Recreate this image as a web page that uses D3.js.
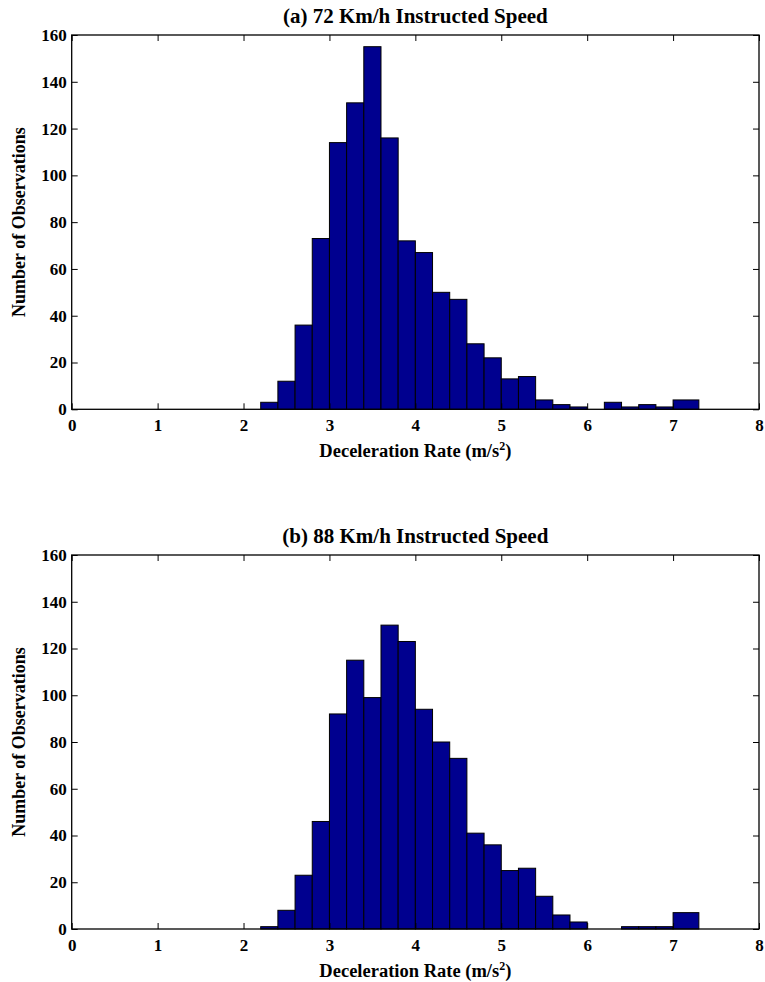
<!DOCTYPE html>
<html>
<head>
<meta charset="utf-8">
<script src="https://cdn.jsdelivr.net/npm/d3@7"></script>
<style>
  html, body { margin: 0; padding: 0; background: #fff; }
  svg text { font-family: "Liberation Serif", "Times New Roman", Times, "DejaVu Serif", serif !important; font-weight: bold; fill: #000; }
</style>
</head>
<body>
<svg id="chart" width="765" height="982"></svg>
<script>
// Bin edges of the histograms (m/s^2)
const binEdges = [2.2, 2.4, 2.6, 2.8, 3.0, 3.2, 3.4, 3.6, 3.8, 4.0, 4.2, 4.4, 4.6, 4.8,
                  5.0, 5.2, 5.4, 5.6, 5.8, 6.0, 6.2, 6.4, 6.6, 6.8, 7.0, 7.3];
// Counts per bin
const counts72 = [3, 12, 36, 73, 114, 131, 155, 116, 72, 67, 50, 47, 28, 22,
                  13, 14, 4, 2, 1, 0, 3, 1, 2, 1, 4];
const counts88 = [1, 8, 23, 46, 92, 115, 99, 130, 123, 94, 80, 73, 41, 36,
                  25, 26, 14, 6, 3, 0, 0, 1, 1, 1, 7];
const xTicks = [0, 1, 2, 3, 4, 5, 6, 7, 8];
const yTicks = [0, 20, 40, 60, 80, 100, 120, 140, 160];
const titles = ["(a) 72 Km/h Instructed Speed", "(b) 88 Km/h Instructed Speed"];
const xLabel = "Deceleration Rate (m/s";
const yLabel = "Number of Observations";

const svg = d3.select("#chart");
const FONT = '"Liberation Serif", "Times New Roman", Times, "DejaVu Serif", serif';
const left = 71.7, right = 759;
const panels = [
  { title: titles[0], counts: counts72, top: 35, bottom: 409.3 },
  { title: titles[1], counts: counts88, top: 555, bottom: 929 }
];

const x = d3.scaleLinear().domain([0, 8]).range([left, right]);

panels.forEach(p => {
  const y = d3.scaleLinear().domain([0, 160]).range([p.bottom, p.top]);
  const g = svg.append("g");
  const bins = p.counts.map((c, i) => ({ x0: binEdges[i], x1: binEdges[i + 1], c }));

  g.selectAll("rect.bar").data(bins.filter(d => d.c > 0)).join("rect")
    .attr("class", "bar")
    .attr("x", d => x(d.x0))
    .attr("width", d => x(d.x1) - x(d.x0))
    .attr("y", d => y(d.c))
    .attr("height", d => y(0) - y(d.c))
    .attr("fill", "#00008F")
    .attr("stroke", "#000")
    .attr("stroke-width", 1);

  const tl = 6;
  const xb = g.append("g").attr("transform", `translate(0,${p.bottom})`)
    .call(d3.axisBottom(x).tickValues(xTicks).tickSize(-tl).tickPadding(10).tickFormat(d3.format("d")));
  const xt = g.append("g").attr("transform", `translate(0,${p.top})`)
    .call(d3.axisTop(x).tickValues(xTicks).tickSize(-tl).tickFormat(""));
  const yl = g.append("g").attr("transform", `translate(${left},0)`)
    .call(d3.axisLeft(y).tickValues(yTicks).tickSize(-tl).tickPadding(5).tickFormat(d3.format("d")));
  const yr = g.append("g").attr("transform", `translate(${right},0)`)
    .call(d3.axisRight(y).tickValues(yTicks).tickSize(-tl).tickFormat(""));
  [xb, xt, yl, yr].forEach(a => {
    a.attr("font-family", FONT).attr("font-size", 17).attr("font-weight", "bold");
    a.select(".domain").remove();
    a.selectAll("line").attr("stroke", "#000").attr("stroke-width", 1);
  });

  g.append("rect").attr("x", left).attr("y", p.top)
    .attr("width", right - left).attr("height", p.bottom - p.top)
    .attr("fill", "none").attr("stroke", "#000").attr("stroke-width", 1.3);

  g.append("text").attr("x", (left + right) / 2).attr("y", p.top - 12)
    .attr("text-anchor", "middle").attr("font-family", FONT).attr("font-size", 21).text(p.title);

  const xl = g.append("text").attr("x", (left + right) / 2).attr("y", p.bottom + 48)
    .attr("text-anchor", "middle").attr("font-family", FONT).attr("font-size", 18.5);
  xl.append("tspan").text(xLabel);
  xl.append("tspan").attr("dy", -7).attr("font-size", 12).text("2");
  xl.append("tspan").attr("dy", 7).text(")");

  g.append("text")
    .attr("transform", `translate(25,${(p.top + p.bottom) / 2}) rotate(-90)`)
    .attr("text-anchor", "middle").attr("font-family", FONT).attr("font-size", 18).text(yLabel);
});
</script>
</body>
</html>
